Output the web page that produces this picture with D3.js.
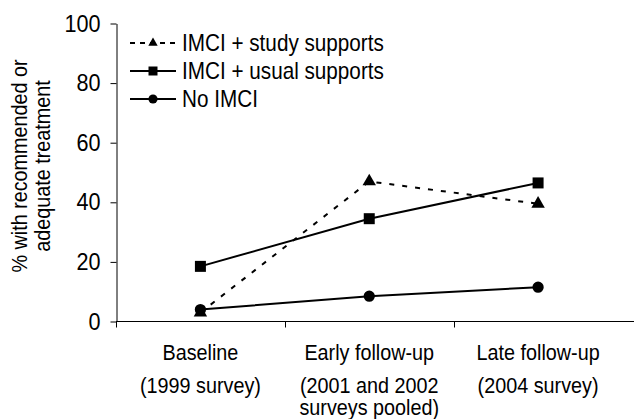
<!DOCTYPE html>
<html>
<head>
<meta charset="utf-8">
<script src="https://cdn.jsdelivr.net/npm/d3@7"></script>
<style>
  html, body { margin: 0; padding: 0; background: #fff; }
  svg { display: block; font-family: "Liberation Sans", Arial, sans-serif; }
</style>
</head>
<body>
<svg id="chart"></svg>
<script>
// data
const categories = ["Baseline", "Early follow-up", "Late follow-up"];
const subLabels = [["(1999 survey)"], ["(2001 and 2002", "surveys pooled)"], ["(2004 survey)"]];
const yTicks = [0, 20, 40, 60, 80, 100];
const seriesNames = ["IMCI + study supports", "IMCI + usual supports", "No IMCI"];
const studyValues = [3, 47, 39.5];
const usualValues = [18.5, 34.5, 46.5];
const noImciValues = [4, 8.5, 11.5];
const yTitle = ["% with recommended or", "adequate treatment"];

const width = 635, height = 419;
const marginLeft = 116, marginTop = 23.5, axisY = 321.5, plotRight = 622.5;
const squeeze = 0.9; // the original text is a bit narrow and tall

const svg = d3.select("#chart").attr("width", width).attr("height", height);

const x = d3.scaleBand().domain(categories).range([marginLeft, plotRight]);
const y = d3.scaleLinear().domain([0, 100]).range([axisY, marginTop]);

// series table
const series = [
  { name: seriesNames[0], values: studyValues, symbol: d3.symbolTriangle, size: 78, legendSize: 38, dash: "5,8", legendDash: "5,5" },
  { name: seriesNames[1], values: usualValues, symbol: d3.symbolSquare, size: 121, legendSize: 81, dash: null, legendDash: null },
  { name: seriesNames[2], values: noImciValues, symbol: d3.symbolCircle, size: 100, legendSize: 66, dash: null, legendDash: null }
];

// text helper: places a narrow-ish label at (px,py)
function label(parent, px, py, str, size, anchor, rot) {
  return parent.append("text")
    .attr("transform", `translate(${px},${py})${rot ? ` rotate(${rot})` : ""} scale(${squeeze},1)`)
    .attr("text-anchor", anchor)
    .attr("font-size", size)
    .attr("fill", "#000")
    .text(str);
}

// y axis
const yAxis = svg.append("g")
  .attr("transform", `translate(${marginLeft + 0.5},0)`)
  .call(d3.axisLeft(y).tickValues(yTicks).tickSize(6).tickPadding(10).tickSizeOuter(0));
yAxis.select(".domain").attr("stroke", "#000");
yAxis.selectAll(".tick line").attr("stroke", "#000");
yAxis.selectAll(".tick text")
  .attr("x", -16 / squeeze)
  .attr("transform", `scale(${squeeze},1)`)
  .attr("font-size", 24)
  .attr("fill", "#000")
  .attr("font-family", "Liberation Sans, Arial, sans-serif");

// x axis: line plus ticks at the band edges
const xAxis = svg.append("g");
xAxis.append("line")
  .attr("x1", marginLeft).attr("x2", width - 1)
  .attr("y1", axisY).attr("y2", axisY)
  .attr("stroke", "#000");
xAxis.selectAll(".xtick")
  .data(categories)
  .join("line")
  .attr("class", "xtick")
  .attr("x1", d => Math.round(x(d)) + 0.5).attr("x2", d => Math.round(x(d)) + 0.5)
  .attr("y1", axisY).attr("y2", axisY + 6)
  .attr("stroke", "#000");

// category labels
const labels = svg.append("g");
categories.forEach((c, i) => {
  const cx = x(c) + x.bandwidth() / 2;
  label(labels, cx, 360, c, 22, "middle");
  subLabels[i].forEach((s, j) => label(labels, cx, 393 + j * 22, s, 22, "middle"));
});

// y title
yTitle.forEach((t, i) => label(svg, 27 + i * 23, 166, t, 22, "middle", -90));

// lines and markers
const line = d3.line()
  .x((d, i) => x(categories[i]) + x.bandwidth() / 2)
  .y(d => y(d));

series.forEach(s => {
  svg.append("path")
    .datum(s.values)
    .attr("fill", "none")
    .attr("stroke", "#000")
    .attr("stroke-width", 2)
    .attr("stroke-dasharray", s.dash)
    .attr("d", line);
});

series.forEach(s => {
  svg.append("g").selectAll("path")
    .data(s.values)
    .join("path")
    .attr("transform", (d, i) => `translate(${x(categories[i]) + x.bandwidth() / 2},${y(d)})`)
    .attr("d", d3.symbol(s.symbol, s.size))
    .attr("fill", "#000");
});

// legend
const legend = svg.append("g").attr("transform", "translate(130,43)");
series.forEach((s, i) => {
  const row = legend.append("g").attr("transform", `translate(0,${i * 28})`);
  row.append("line")
    .attr("x1", 0).attr("x2", 46)
    .attr("stroke", "#000")
    .attr("stroke-width", 2)
    .attr("stroke-dasharray", s.legendDash);
  row.append("path")
    .attr("transform", "translate(23,0)")
    .attr("d", d3.symbol(s.symbol, s.legendSize))
    .attr("fill", "#000");
  label(row, 52, 8, s.name, 23, "start");
});
</script>
</body>
</html>
